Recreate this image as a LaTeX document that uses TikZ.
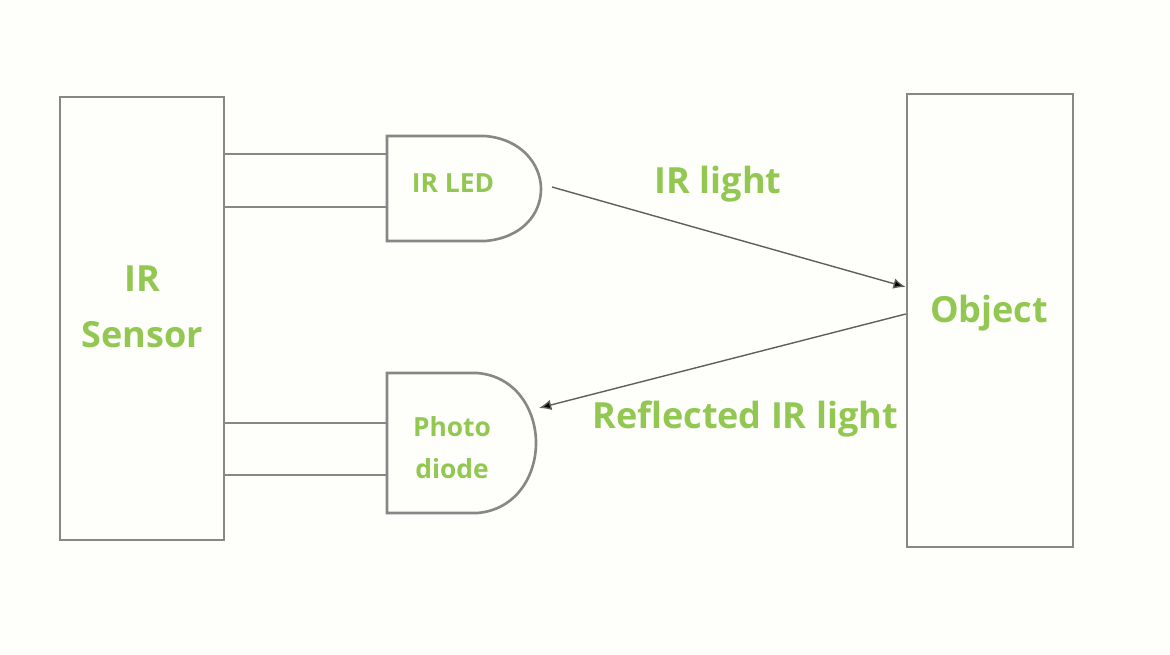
\documentclass[tikz,border=0pt]{standalone}
\usepackage{fontspec}
\setmainfont{Open Sans}
\usetikzlibrary{arrows.meta,positioning}
\definecolor{lblgreen}{RGB}{146,199,82}
\definecolor{edgegray}{RGB}{135,135,135}
\definecolor{raygray}{RGB}{95,95,95}
\definecolor{paper}{RGB}{254,254,251}

\begin{document}
\begin{tikzpicture}[x=0.02cm,y=-0.02cm,
    box/.style={draw=edgegray, line width=1.5pt, inner sep=0pt},
    wire/.style={draw=edgegray, line width=1.2pt},
    ray/.style={draw=raygray, line width=0.8pt, -{Latex[length=7pt,width=6pt,fill=black]}},
    lbl/.style={text=lblgreen, font=\bfseries\fontsize{20.5}{32}\selectfont, align=center},
    small lbl/.style={text=lblgreen, font=\bfseries\fontsize{15}{24}\selectfont, align=center}]

	\fill[paper] (0,0) rectangle (1170,654);
	\useasboundingbox (0,0) rectangle (1170,654);

	% blocks
	\node[box, minimum width=3.28cm, minimum height=8.86cm] (sensor) at (142,318.5) {};
	\node[box, minimum width=3.32cm, minimum height=9.06cm] (obj) at (990,320.5) {};

	% gate outlines
	\draw[box] (387,136) -- (485,136) .. controls (522,139) and (541,165) .. (541,189)
		.. controls (541,214) and (522,238) .. (485,241) -- (387,241) -- cycle;
	\draw[box] (387,373) -- (477,373) .. controls (516,376) and (536,410) .. (536,443)
		.. controls (536,476) and (516,510) .. (477,513) -- (387,513) -- cycle;

	\coordinate (led in1) at (387,154);
	\coordinate (led in2) at (387,207);
	\coordinate (led tip) at (552,187);
	\coordinate (pd in1) at (387,423);
	\coordinate (pd in2) at (387,475);
	\coordinate (pd tip) at (539,408);

	% labels
	\node[small lbl, anchor=base] (ledtxt) at (453,192) {IR LED};
	\node[small lbl] (pdtxt) at (452,448) {Photo\\diode};
	\node[lbl] (sensortxt) at (142,307) {IR\\Sensor};
	\node[lbl, anchor=base] (objtxt) at (989,322) {Object};
	\node[lbl, anchor=base] (irtxt) at (718,193) {IR light};
	\node[lbl, anchor=base] (refltxt) at (745,428) {Reflected IR light};

	% wires
	\draw[wire] (sensor.east |- led in1) -- (led in1);
	\draw[wire] (sensor.east |- led in2) -- (led in2);
	\draw[wire] (sensor.east |- pd in1) -- (pd in1);
	\draw[wire] (sensor.east |- pd in2) -- (pd in2);

	% light paths
	\draw[ray] (led tip) -- (obj.west |- 0,287);
	\draw[ray] (obj.west |- 0,314) -- (pd tip);
\end{tikzpicture}
\end{document}
